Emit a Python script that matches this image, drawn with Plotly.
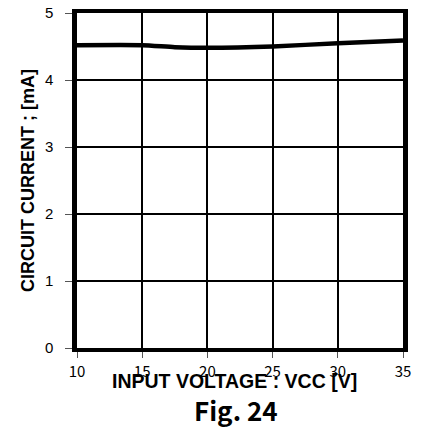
import plotly.graph_objects as go

# circuit current vs input voltage (Fig. 24)
vcc = [10, 15, 17.5, 20, 25, 30, 35]
icc = [4.52, 4.52, 4.49, 4.48, 4.50, 4.55, 4.59]

x_ticks = [10, 15, 20, 25, 30, 35]
y_ticks = [0, 1, 2, 3, 4, 5]

fig = go.Figure()

fig.add_trace(go.Scatter(x=vcc, y=icc, mode="lines",
                         line=dict(color="black", width=4.5, shape="spline", smoothing=0.6),
                         showlegend=False, hoverinfo="skip"))

# page body adds 8px, so the figure is a bit smaller than the window
fig.update_layout(
    width=419,
    height=422,
    margin=dict(l=69, r=24, t=5, b=82),
    paper_bgcolor="white",
    plot_bgcolor="white",
    font=dict(family="Arial, Liberation Sans", size=13, color="black"),
)

fig.update_xaxes(
    range=[10, 35],
    tickvals=x_ticks,
    automargin=False,
    showgrid=True, gridcolor="black", gridwidth=2,
    showline=True, linecolor="black", linewidth=4, mirror=True,
    ticks="outside", ticklen=6, tickcolor="#555", tickwidth=1,
    ticklabelstandoff=1,
    ticklabeloverflow="allow",
    tickfont=dict(family="Noto Sans CJK JP", size=15),
    zeroline=False,
)

fig.update_yaxes(
    range=[0, 5],
    tickvals=y_ticks,
    automargin=False,
    showgrid=True, gridcolor="black", gridwidth=2,
    showline=True, linecolor="black", linewidth=4.5, mirror=True,
    ticks="outside", ticklen=7, tickcolor="#555", tickwidth=1,
    ticklabelstandoff=9,
    ticklabeloverflow="allow",
    tickfont=dict(family="Arial, Liberation Sans", size=15),
    zeroline=False,
)

# axis titles and caption as annotations so they sit where the original does
fig.add_annotation(text="<b>CIRCUIT CURRENT ; [mA]</b>", textangle=-90,
                   xref="paper", yref="paper", x=-0.15, y=0.499,
                   xanchor="center", yanchor="middle",
                   showarrow=False, font=dict(family="Arial, Liberation Sans", size=18))
fig.add_annotation(text="<b>INPUT VOLTAGE : VCC [V]</b>",
                   xref="paper", yref="paper", x=0.482, y=-0.099,
                   xanchor="center", yanchor="middle",
                   showarrow=False, font=dict(family="Arial, Liberation Sans", size=19.5))
fig.add_annotation(text="<b>Fig. 24</b>",
                   xref="paper", yref="paper", x=0.488, y=-0.183,
                   xanchor="center", yanchor="middle",
                   showarrow=False, font=dict(family="Noto Sans CJK JP", size=26))

fig.write_html("out.html")
